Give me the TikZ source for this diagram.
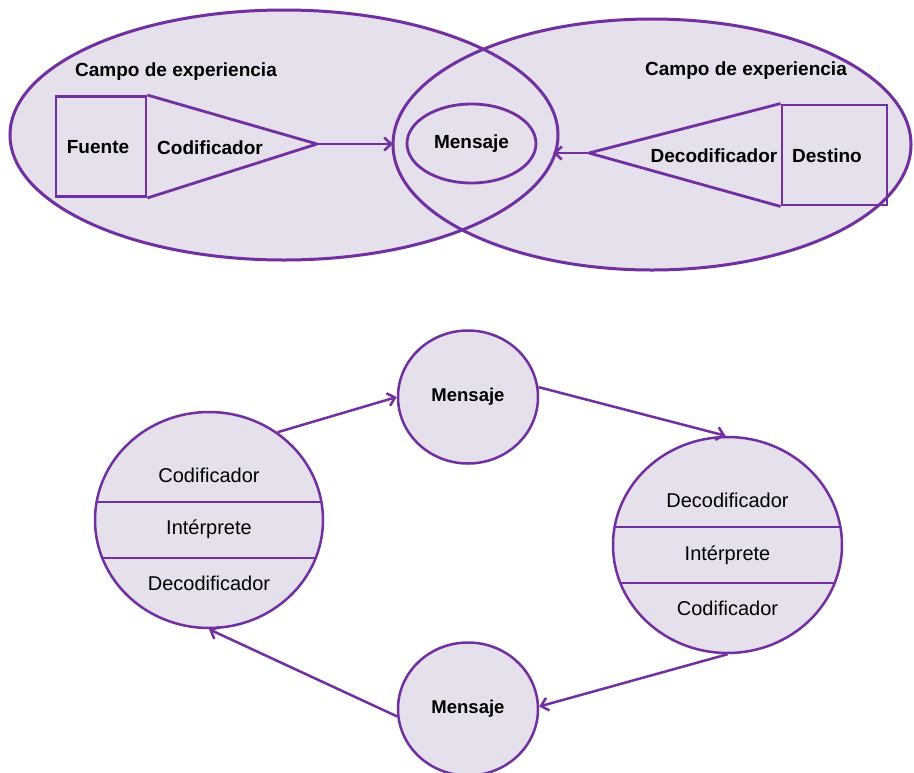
\documentclass[tikz,border=0pt]{standalone}
\usepackage{fontspec}
\setmainfont{Liberation Sans}
\usepackage{tikz}
\usetikzlibrary{arrows.meta,shapes.geometric}
\usepackage{xcolor}
\definecolor{lila}{RGB}{229,224,236}
\definecolor{morado}{RGB}{112,48,160}
\tikzset{
  campo/.style={line width=3pt, draw=morado},
  caja/.style={draw=morado, line width=2.9pt, inner sep=0pt, minimum width=90pt, minimum height=100pt},
  rotulo/.style={inner sep=0pt, font=\fontsize{19}{22}\selectfont\bfseries},
  capa/.style={inner sep=0pt, font=\fontsize{20}{24}\selectfont},
  burbuja/.style={ellipse, draw=morado, fill=lila, line width=2.5pt, inner sep=0pt},
  divisor/.style={line width=2.8pt, morado},
  flecha/.style={line width=2.5pt, morado, -{Straight Barb[length=7pt,width=13pt]}},
}

\begin{document}
\begin{tikzpicture}[x=1pt,y=-1pt]
\useasboundingbox (0,0) rectangle (914,772);
\fill[white] (0,0) rectangle (914,772);
\fill[lila] (284,135) ellipse [x radius=274, y radius=125];
\fill[lila] (652,144.5) ellipse [x radius=259, y radius=125.5];
\draw[campo] (284,135) ellipse [x radius=274, y radius=125];
\draw[campo] (652,144.5) ellipse [x radius=259, y radius=125.5];
\node[rotulo] (campoA) at (176,72) {Campo de experiencia};
\node[rotulo] (campoB) at (746,71) {Campo de experiencia};
\node[caja] (fuente) at (101,146.5) {};
\node[rotulo] (fuenteT) at (98,147) {Fuente};
\coordinate (puntaA) at (317,144);
\draw[divisor, line join=round] (fuente.north east) -- (puntaA) -- (fuente.south east);
\node[rotulo] (cod) at (210,148) {Codificador};
\node[caja, minimum width=105pt] (destino) at (834.5,155) {};
\node[rotulo] (destinoT) at (827,156) {Destino};
\coordinate (puntaB) at (589,153);
\draw[divisor, line join=round] (destino.north west) -- (puntaB) -- (destino.south west);
\node[rotulo] (decod) at (714,156) {Decodificador};
\node[burbuja, line width=2.8pt, fill=none, minimum width=129pt, minimum height=79pt, font=\fontsize{19}{22}\selectfont\bfseries] (mensaje) at (471.5,143.5) {Mensaje};
\coordinate (bordeA) at (393,144);
\coordinate (bordeB) at (553,153);
\draw[flecha] (puntaA) -- (bordeA);
\draw[flecha] (puntaB) -- (bordeB);
\node[burbuja, minimum width=228pt, minimum height=216pt] (emisor) at (209,520) {};
\node[burbuja, minimum width=229pt, minimum height=216pt] (receptor) at (727.5,545) {};
\node[burbuja, minimum width=140pt, minimum height=133pt, font=\fontsize{18.5}{22}\selectfont\bfseries] (ida) at (468,397) {Mensaje};
\node[burbuja, minimum width=140pt, minimum height=133pt, font=\fontsize{18.5}{22}\selectfont\bfseries] (vuelta) at (468,709) {Mensaje};
\begin{scope}
\clip (209,520) ellipse [x radius=114, y radius=108];
\draw[divisor] (90,502) -- (330,502);
\draw[divisor] (90,558) -- (330,558);
\end{scope}
\begin{scope}
\clip (727.5,545) ellipse [x radius=114.5, y radius=108];
\draw[divisor] (600,527) -- (850,527);
\draw[divisor] (600,583) -- (850,583);
\end{scope}
\node[capa] (emisorA) at (209,475) {Codificador};
\node[capa] (emisorB) at (209,529) {Intérprete};
\node[capa] (emisorC) at (209,583) {Decodificador};
\node[capa] (receptorA) at (727.5,500) {Decodificador};
\node[capa] (receptorB) at (727.5,555) {Intérprete};
\node[capa] (receptorC) at (727.5,608) {Codificador};
\draw[flecha] (emisor.52) -- (ida.west);
\draw[flecha] (ida.8) -- (receptor.91);
\draw[flecha] (receptor.south) -- (vuelta.2);
\draw[flecha] (vuelta.186) -- (emisor.south);
\end{tikzpicture}
\end{document}
